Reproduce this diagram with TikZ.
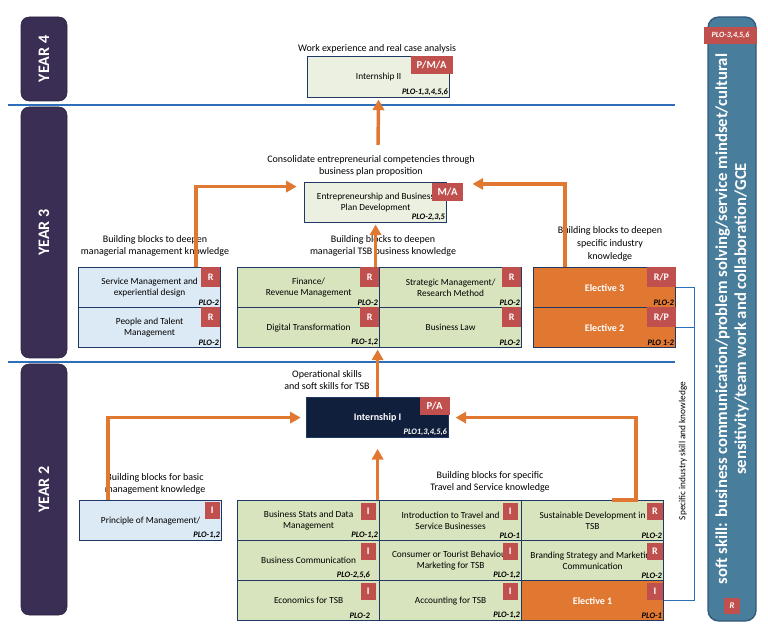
\documentclass[tikz,border=0pt]{standalone}
\usepackage{fontspec}
\setmainfont{Carlito}
\usetikzlibrary{arrows.meta,positioning}

\definecolor{yearpurple}{RGB}{58,46,84}
\definecolor{boxnavy}{RGB}{31,56,100}
\definecolor{cgreen}{RGB}{215,228,189}
\definecolor{cblue}{RGB}{220,234,245}
\definecolor{cbeige}{RGB}{236,240,224}
\definecolor{tagred}{RGB}{192,80,77}
\definecolor{corange}{RGB}{224,120,50}
\definecolor{intnavy}{RGB}{16,32,60}
\definecolor{softblue}{RGB}{72,125,155}
\definecolor{softedge}{RGB}{50,90,125}
\definecolor{sepblue}{RGB}{46,110,185}

\tikzset{
  year/.style={rotate=90, fill=yearpurple, draw=yearpurple!80!black, rounded corners=6pt,
    minimum height=34.5pt, text=white, font=\bfseries\fontsize{12}{12}\selectfont},
  course/.style={draw=boxnavy, line width=0.9pt, fill=cgreen, minimum width=106.5pt,
    minimum height=30pt, anchor=north west, align=center, inner sep=1pt,
    font=\fontsize{7}{8.6}\selectfont},
  elective/.style={course, fill=corange, text=white, font=\bfseries\fontsize{7.5}{8.6}\selectfont},
  tag/.style={fill=tagred, text=white, minimum width=14pt, minimum height=14.5pt, inner sep=0pt,
    anchor=north east, font=\bfseries\fontsize{7.5}{7.5}\selectfont},
  tagtwo/.style={tag, minimum width=11.5pt, minimum height=13pt},
  plo/.style={anchor=south east, inner sep=1.5pt, font=\bfseries\itshape\fontsize{6.3}{6.3}\selectfont},
  note/.style={align=center, font=\fontsize{7.5}{9.5}\selectfont},
  soft/.style={rotate=90, fill=softblue, draw=softedge, line width=1pt, rounded corners=8pt,
    minimum height=36pt, text=white, align=center, inner sep=0pt,
    font=\bfseries\fontsize{12.5}{14.3}\selectfont},
  flow/.style={draw=corange, line width=2.6pt, shorten >=1pt, -{Triangle[width=8.5pt,length=8pt]}},
  sep/.style={draw=sepblue, line width=1.2pt},
  bracket/.style={draw=sepblue, line width=0.9pt},
}

\begin{document}
\begin{tikzpicture}[x=0.75pt,y=-0.75pt]
    \useasboundingbox (0,0) rectangle (768,634);
    % \draw[help lines,step=10] (0,0) grid (768,634);

    % years
    \node[year, minimum width=63pt] (y4) at (44,59) {YEAR 4};
    \node[year, minimum width=188.25pt] (y3) at (44,232.5) {YEAR 3};
    \node[year, minimum width=188.25pt] (y2) at (44,489.5) {YEAR 2};
    \draw[sep] (8,105) -- (675,105);
    \draw[sep] (8,362) -- (675,362);

    % year 4
    \node[note] (workexp) at (377,49) {Work experience and real case analysis};
    \node[course, fill=cbeige, minimum height=30.75pt] (int2) at (307,56) {Internship II};
    \node[tag, minimum width=31.5pt, minimum height=13.5pt, font=\bfseries\fontsize{8}{8}\selectfont] (int2t) at ([xshift=2pt]int2.north east) {P/M/A};
    \node[plo] (int2p) at (int2.south east) {PLO-1,3,4,5,6};

    % year 3
    \node[note] (consol) at (371,166) {Consolidate entrepreneurial competencies through\\business plan proposition};
    \node[course, fill=cbeige] (ent) at (304,182) {Entrepreneurship and Business\\Plan Development};
    \node[tag, minimum width=23pt, minimum height=13.5pt, font=\bfseries\fontsize{8}{8}\selectfont] (entt) at ([xshift=12pt,yshift=-0.5pt]ent.north east) {M/A};
    \node[plo] (entp) at (ent.south east) {PLO-2,3,5};

    \node[note] (deep1) at (155,246) {Building blocks to deepen\\managerial management knowledge};
    \node[note] (deep2) at (383,246) {Building blocks to deepen\\managerial TSB business knowledge};
    \node[note] (deep3) at (610,244) {Building blocks to deepen\\specific industry\\knowledge};

    \node[course, fill=cblue] (svc) at (78,267) {Service Management and\\experiential design};
    \node[tag] (svct) at ([xshift=-0.75pt]svc.north east) {R};
    \node[plo] (svcp) at (svc.south east) {PLO-2};
    \node[course, fill=cblue] (ppl) at (78,307) {People and Talent\\Management};
    \node[tag] (pplt) at ([xshift=-0.75pt]ppl.north east) {R};
    \node[plo] (pplp) at (ppl.south east) {PLO-2};

    \node[course] (fin) at (237,267) {Finance/\\Revenue Management};
    \node[tag] (fint) at ([xshift=-0.75pt]fin.north east) {R};
    \node[plo] (finp) at (fin.south east) {PLO-2};
    \node[course] (dig) at (237,307) {Digital Transformation};
    \node[tag] (digt) at ([xshift=-0.75pt]dig.north east) {R};
    \node[plo] (digp) at (dig.south east) {PLO-1,2};
    \node[course] (stm) at (379,267) {Strategic Management/\\Research Method};
    \node[tag] (stmt) at ([xshift=-0.75pt]stm.north east) {R};
    \node[plo] (stmp) at (stm.south east) {PLO-2};
    \node[course] (law) at (379,307) {Business Law};
    \node[tag] (lawt) at ([xshift=-0.75pt]law.north east) {R};
    \node[plo] (lawp) at (law.south east) {PLO-2};

    \node[elective] (el3) at (533,267) {Elective 3};
    \node[tag, minimum width=21.75pt, minimum height=15pt] (el3t) at (el3.north east) {R/P};
    \node[plo] (el3p) at (el3.south east) {PLO-2};
    \node[elective] (el2) at (533,307) {Elective 2};
    \node[tag, minimum width=21.75pt, minimum height=15pt] (el2t) at (el2.north east) {R/P};
    \node[plo] (el2p) at (el2.south east) {PLO 1-2};

    % year 2
    \node[note] (opskill) at (327,380) {Operational skills\\and soft skills for TSB};
    \node[course, fill=intnavy, text=white, font=\bfseries\fontsize{7.5}{8.6}\selectfont] (int1) at (306,397) {Internship I};
    \node[tag, minimum width=22.5pt, minimum height=13.5pt, font=\bfseries\fontsize{8}{8}\selectfont] (int1t) at ([xshift=0.5pt,yshift=0.5pt]int1.north east) {P/A};
    \node[plo, text=white] (int1p) at (int1.south east) {PLO1,3,4,5,6};

    \node[note] (basic) at (155,484) {Building blocks for basic\\management knowledge};
    \node[note] (spec) at (490,482) {Building blocks for specific\\Travel and Service knowledge};

    \node[course, fill=cblue] (pom) at (79,500) {Principle of Management/};
    \node[tagtwo] (pomt) at ([xshift=-1.5pt,yshift=-1pt]pom.north east) {I};
    \node[plo] (pomp) at (pom.south east) {PLO-1,2};

    \node[course] (bsd) at (237,500) {Business Stats and Data\\Management};
    \node[tagtwo] (bsdt) at ([xshift=-3pt,yshift=-2pt]bsd.north east) {I};
    \node[plo] (bsdp) at (bsd.south east) {PLO-1,2};
    \node[course] (bcm) at (237,540) {Business Communication};
    \node[tagtwo] (bcmt) at ([xshift=-3pt,yshift=-2pt]bcm.north east) {I};
    \node[plo] (bcmp) at ([xshift=-6pt]bcm.south east) {PLO-2,5,6};
    \node[course] (eco) at (237,580) {Economics for TSB};
    \node[tagtwo] (ecot) at ([xshift=-3pt,yshift=-2pt]eco.north east) {I};
    \node[plo] (ecop) at ([xshift=-6pt]eco.south east) {PLO-2};

    \node[course] (itb) at (379,500) {Introduction to Travel and\\Service Businesses};
    \node[tagtwo] (itbt) at ([xshift=-3pt,yshift=-2pt]itb.north east) {I};
    \node[plo] (itbp) at (itb.south east) {PLO-1};
    \node[course] (cbm) at (379,540) {Consumer or Tourist Behaviour\\Marketing for TSB};
    \node[tagtwo] (cbmt) at ([xshift=-3pt,yshift=-2pt]cbm.north east) {I};
    \node[plo] (cbmp) at (cbm.south east) {PLO-1,2};
    \node[course] (acc) at (379,580) {Accounting for TSB};
    \node[tagtwo] (acct) at ([xshift=-3pt,yshift=-2pt]acc.north east) {I};
    \node[plo] (accp) at (acc.south east) {PLO-1,2};

    \node[course] (sus) at (521,500) {Sustainable Development in\\TSB};
    \node[tagtwo] (sust) at ([xshift=-1pt,yshift=-2pt]sus.north east) {R};
    \node[plo] (susp) at (sus.south east) {PLO-2};
    \node[course] (bsm) at (521,540) {Branding Strategy and Marketing\\Communication};
    \node[tagtwo] (bsmt) at ([xshift=-1pt,yshift=-2pt]bsm.north east) {R};
    \node[plo] (bsmp) at (bsm.south east) {PLO-2};
    \node[elective] (el1) at (521,580) {Elective 1};
    \node[tagtwo] (el1t) at ([xshift=-1pt,yshift=-2pt]el1.north east) {I};
    \node[plo] (el1p) at (el1.south east) {PLO-1};

    % soft skills bar
    \node[soft, minimum width=453pt] (soft) at (732,319) {soft skill: business communication/problem solving/service mindset/cultural\\sensitivity/team work and collaboration/GCE};
    \node[tag, anchor=center, minimum width=39.75pt, minimum height=12.75pt, font=\bfseries\itshape\fontsize{6}{6}\selectfont] (softplo) at (730.5,35.5) {PLO-3,4,5,6};
    \node[tag, anchor=center, minimum width=12pt, minimum height=12pt, font=\bfseries\itshape\fontsize{6.5}{6.5}\selectfont] (softr) at (732,606) {R};

    % specific industry bracket
    \draw[bracket] (el3.east) -- ++(13.5pt,0) |- (el1.east);
    \draw[bracket] (el2.east) -- ++(13.5pt,0);
    \node[rotate=90, font=\fontsize{7}{7}\selectfont] (industry) at (683,451) {Specific industry skill and knowledge};

    % arrows
    \coordinate (topstart) at (378,145);
    \draw[flow] (topstart) -- (int2.south);
    \draw[flow] (ent.south |- fin.north) -- (ent.south);
    \draw[flow] ([xshift=-18.75pt]svc.north east) |- ([xshift=-4.5pt,yshift=12pt]ent.west);
    \draw[flow] ([xshift=24pt]el3.north west) |- ([xshift=18pt,yshift=14pt]ent.east);
    \draw[flow] (int1.north) -- (int1.north |- dig.south);
    \draw[flow, shorten >=8pt] (int1.south |- bsd.north) -- (int1.south);
    \draw[flow] ([xshift=21.75pt]pom.north west) |- ([xshift=-3pt]int1.west);
    \draw[flow] ([xshift=68.25pt]sus.north west) -- ([xshift=86.25pt]sus.north west) |- ([xshift=3.75pt]int1.east);

\end{tikzpicture}
\end{document}
